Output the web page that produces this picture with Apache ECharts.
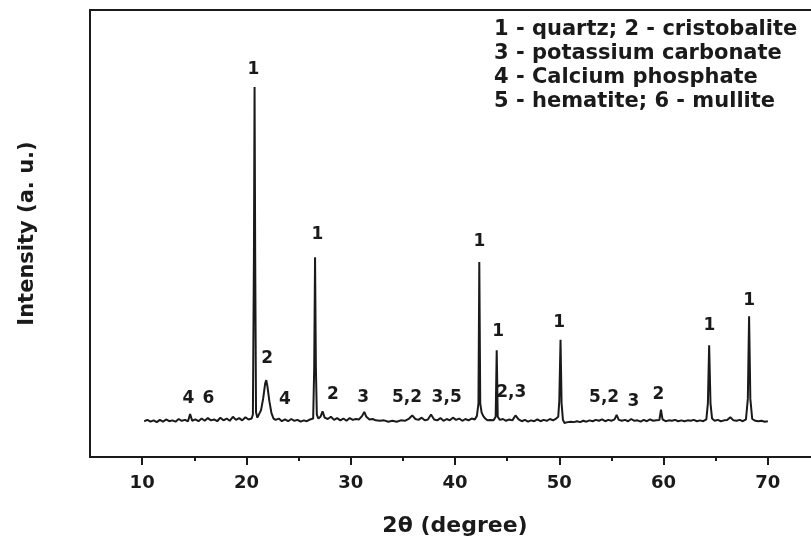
<!DOCTYPE html>
<html>
<head>
<meta charset="utf-8">
<script src="https://cdn.jsdelivr.net/npm/echarts@6/dist/echarts.min.js"></script>
<style>
  html, body { margin: 0; padding: 0; background: #fff; }
  #chart { width: 811px; height: 539px; }
</style>
</head>
<body>
<div id="chart"></div>
<script>
// XRD pattern (2theta in degrees, intensity in arbitrary units 0-100)
var twoTheta = [
    10.2, 10.5, 10.8, 11.1, 11.4, 11.7, 12.0, 12.3, 12.6, 12.9, 13.2, 13.5, 13.8, 14.1, 14.4, 14.6, 14.8,
    15.1, 15.4, 15.7, 16.0, 16.3, 16.6, 16.9, 17.2, 17.5, 17.8, 18.1, 18.4, 18.7, 19.0, 19.3, 19.6, 19.9,
    20.2, 20.5, 20.62, 20.72, 20.78, 20.84, 20.92, 21.05, 21.2, 21.4, 21.6, 21.8, 21.9, 22.0, 22.2, 22.4,
    22.6, 22.8, 23.1, 23.4, 23.7, 24.0, 24.3, 24.6, 24.9, 25.2, 25.5, 25.8, 26.1, 26.4, 26.5, 26.58, 26.66,
    26.75, 26.9, 27.1, 27.3, 27.5, 27.8, 28.1, 28.4, 28.7, 29.0, 29.3, 29.6, 29.9, 30.2, 30.5, 30.8, 31.1,
    31.3, 31.5, 31.8, 32.1, 32.4, 32.8, 33.2, 33.6, 34.0, 34.4, 34.8, 35.2, 35.6, 35.9, 36.2, 36.5, 36.8,
    37.1, 37.4, 37.7, 38.0, 38.3, 38.6, 38.9, 39.2, 39.5, 39.8, 40.1, 40.4, 40.7, 41.0, 41.3, 41.6, 41.9,
    42.1, 42.25, 42.33, 42.42, 42.55, 42.7, 42.9, 43.1, 43.4, 43.7, 43.9, 44.0, 44.1, 44.3, 44.6, 44.9,
    45.2, 45.5, 45.8, 46.1, 46.4, 46.7, 47.0, 47.3, 47.6, 47.9, 48.2, 48.5, 48.8, 49.1, 49.4, 49.7, 49.9,
    50.0, 50.12, 50.22, 50.35, 50.5, 50.8, 51.1, 51.4, 51.7, 52.0, 52.3, 52.6, 52.9, 53.2, 53.5, 53.8,
    54.1, 54.4, 54.7, 55.0, 55.3, 55.5, 55.7, 56.0, 56.3, 56.6, 56.9, 57.2, 57.5, 57.8, 58.1, 58.4, 58.7,
    59.0, 59.3, 59.6, 59.75, 59.9, 60.2, 60.5, 60.8, 61.1, 61.4, 61.7, 62.0, 62.3, 62.6, 62.9, 63.2, 63.5,
    63.8, 64.1, 64.25, 64.37, 64.5, 64.65, 64.9, 65.2, 65.5, 65.8, 66.1, 66.4, 66.7, 67.0, 67.3, 67.6,
    67.9, 68.08, 68.2, 68.32, 68.5, 68.8, 69.1, 69.4, 69.7, 70.0
];
var intensity = [
    8.0, 8.3, 7.9, 8.2, 7.8, 8.3, 7.9, 8.4, 8.0, 8.2, 7.9, 8.5, 8.1, 8.3, 8.0, 9.6, 8.1,
    8.4, 8.0, 8.6, 8.1, 8.7, 8.2, 8.4, 8.0, 8.8, 8.2, 8.6, 8.1, 9.0, 8.3, 8.7, 8.2, 8.9,
    8.4, 8.6, 9.5, 45, 82.8, 45, 10, 8.8, 9.2, 10.5, 13, 16.5, 17.2, 16, 12.5, 9.8,
    8.6, 8.3, 8.6, 8.0, 8.4, 8.0, 8.5, 8.1, 8.3, 7.9, 8.2, 8.0, 8.4, 8.6, 20, 44.7, 20,
    9.5, 8.6, 9.0, 10.2, 8.8, 8.5, 9.0, 8.3, 8.7, 8.2, 8.6, 8.1, 8.7, 8.3, 8.5, 8.4, 9.2,
    10.1, 9.0, 8.4, 8.5, 8.2, 8.1, 8.2, 7.9, 8.1, 7.9, 8.2, 8.1, 8.6, 9.3, 8.5, 8.3, 8.8,
    8.2, 8.4, 9.5, 8.4, 8.2, 8.7, 8.1, 8.5, 8.2, 8.8, 8.3, 8.6, 8.1, 8.5, 8.2, 8.6, 8.4,
    9.2, 12, 43.6, 12, 10, 9.2, 8.6, 8.2, 8.3, 8.2, 9.0, 23.9, 9.0, 8.3, 8.5, 8.1,
    8.4, 8.2, 9.3, 8.4, 8.0, 8.3, 7.9, 8.2, 8.0, 8.4, 8.0, 8.3, 8.1, 8.5, 8.2, 8.6, 9.0,
    12.5, 26.2, 12.0, 8.3, 7.6, 7.8, 7.9, 7.8, 8.0, 7.8, 8.1, 7.9, 8.2, 8.0, 8.3, 8.1,
    8.4, 8.0, 8.3, 8.1, 8.4, 9.4, 8.3, 8.1, 8.3, 8.0, 8.5, 8.1, 8.2, 7.9, 8.3, 8.0, 8.4,
    8.1, 8.2, 8.3, 10.6, 8.4, 8.0, 8.2, 8.1, 8.3, 8.0, 8.2, 8.0, 8.2, 8.1, 8.3, 8.0, 8.2,
    8.0, 8.4, 12, 25.0, 12, 8.6, 8.1, 8.3, 8.0, 8.2, 8.3, 8.9, 8.2, 8.1, 8.3, 8.0,
    8.4, 13, 31.5, 13, 8.5, 8.1, 8.0, 8.1, 7.9, 8.0
];

// phase marks above the peaks
var markText = ["1", "1", "2", "4", "6", "4", "2", "3", "5,2", "3,5", "1", "1", "2,3", "1", "5,2", "3", "2", "1", "1"];
var markX = [20.66, 26.8, 22.0, 14.44, 16.35, 23.7, 28.3, 31.2, 35.4, 39.2, 42.33, 44.15, 45.4, 50.0, 54.3, 57.1, 59.5, 64.4, 68.2];
var markY = [86.6, 49.7, 22.1, 13.0, 13.0, 12.75, 13.9, 13.4, 13.4, 13.4, 48.3, 28.0, 14.5, 30.0, 13.2, 12.3, 13.9, 29.3, 35.1];

var majorTicks = [10, 20, 30, 40, 50, 60, 70];
var minorTicks = [15, 25, 35, 45, 55, 65];

var phaseKey = "1 - quartz; 2 - cristobalite\n3 - potassium carbonate\n4 - Calcium phosphate\n5 - hematite; 6 - mullite";

var pattern = twoTheta.map(function (x, i) { return [x, intensity[i]]; });
var marks = markText.map(function (t, i) { return { name: t, value: [markX[i], markY[i]] }; });

var ink = "#1a1a1a";
var font = "'DejaVu Sans', 'Liberation Sans', sans-serif";

var chart = echarts.init(document.getElementById("chart"));
var option = {
    animation: false,
    backgroundColor: "#fff",
    title: {
        text: phaseKey,
        left: 494,
        top: 18,
        padding: 0,
        textStyle: {
            fontFamily: font,
            fontSize: 21,
            fontWeight: "bold",
            color: ink,
            lineHeight: 24
        }
    },
    grid: {
        left: 90,
        top: 10,
        right: -9,
        bottom: 82,
        outerBoundsMode: "none",
        show: true,
        borderColor: ink,
        borderWidth: 2
    },
    xAxis: [
        {
            type: "value",
            min: 5,
            max: 75,
            name: "2θ (degree)",
            nameLocation: "middle",
            nameGap: 58,
            nameTextStyle: { fontFamily: font, fontSize: 22, fontWeight: "bold", color: ink },
            splitLine: { show: false },
            axisLine: { onZero: false, lineStyle: { color: ink, width: 2 } },
            axisTick: { customValues: majorTicks, inside: false, length: 8, lineStyle: { color: ink, width: 2 } },
            axisLabel: {
                customValues: majorTicks,
                margin: 17,
                fontFamily: font,
                fontSize: 18,
                fontWeight: "bold",
                color: ink
            }
        },
        {
            type: "value",
            min: 5,
            max: 75,
            position: "bottom",
            splitLine: { show: false },
            axisLine: { show: false },
            axisTick: { customValues: minorTicks, length: 4, lineStyle: { color: ink, width: 2 } },
            axisLabel: { show: false }
        }
    ],
    yAxis: {
        type: "value",
        min: 0,
        max: 100,
        name: "Intensity (a. u.)",
        nameLocation: "middle",
        nameGap: 52,
        nameTextStyle: { fontFamily: font, fontSize: 21, fontWeight: "bold", color: ink },
        splitLine: { show: false },
        axisLine: { show: true, lineStyle: { color: ink, width: 2 } },
        axisTick: { show: false },
        axisLabel: { show: false }
    },
    series: [
        {
            type: "line",
            data: pattern,
            showSymbol: false,
            lineStyle: { color: ink, width: 2 },
            z: 3
        },
        {
            type: "scatter",
            data: marks,
            symbolSize: 1,
            itemStyle: { color: "rgba(0,0,0,0)", opacity: 1 },
            label: {
                show: true,
                position: "inside",
                formatter: "{b}",
                fontFamily: font,
                fontSize: 17,
                fontWeight: "bold",
                color: ink,
                opacity: 1,
                textBorderWidth: 0
            },
            z: 4
        }
    ]
};
chart.setOption(option);
</script>
</body>
</html>
